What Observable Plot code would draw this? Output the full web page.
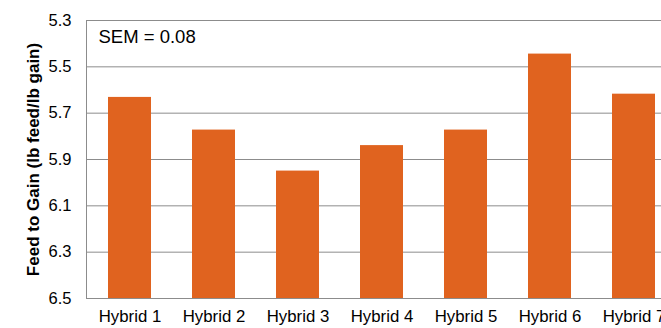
<!DOCTYPE html>
<html><head><meta charset="utf-8">
<script src="https://cdn.jsdelivr.net/npm/d3@7"></script>
<script src="https://cdn.jsdelivr.net/npm/@observablehq/plot@0.6"></script>
<style>html,body{margin:0;padding:0;background:#fff;overflow:hidden;}</style>
</head><body><div id="chart"></div>
<script>
const hybrids = ["Hybrid 1", "Hybrid 2", "Hybrid 3", "Hybrid 4", "Hybrid 5", "Hybrid 6", "Hybrid 7"];
const feedToGain = [5.632, 5.773, 5.95, 5.84, 5.773, 5.445, 5.618];
const yTicks = [5.3, 5.5, 5.7, 5.9, 6.1, 6.3, 6.5];
const yTitle = "Feed to Gain (lb feed/lb gain)";
const semNote = "SEM = 0.08";

const data = hybrids.map((h, i) => ({hybrid: h, value: feedToGain[i]}));
const yMin = yTicks[0], yMax = yTicks[yTicks.length - 1];

const chart = Plot.plot({
  width: 661, height: 328,
  marginLeft: 86, marginRight: -16, marginTop: 20, marginBottom: 30,
  style: {fontFamily: "'Liberation Sans', Arial, sans-serif", fontSize: "16.5px", color: "#000", background: "#fff"},
  x: {domain: hybrids, paddingInner: 0.49, paddingOuter: 0.245, label: null},
  y: {domain: [yMin, yMax], reverse: true, label: null},
  marks: [
    Plot.gridY(yTicks, {stroke: "#8c8c8c", strokeOpacity: 1, strokeWidth: 1}),
    Plot.barY(data, {x: "hybrid", y1: () => yMax, y2: "value", fill: "#E0631F"}),
    Plot.frame({stroke: "#8c8c8c", strokeWidth: 1}),
    Plot.axisY(yTicks, {tickSize: 0, tickPadding: 15, tickFormat: d => d.toFixed(1), label: null, fill: "#000"}),
    Plot.axisX({tickSize: 0, tickPadding: 12, label: null, fill: "#000", fontSize: 16.8}),
    Plot.text([yTitle], {frameAnchor: "left", dx: -53, rotate: -90, textAnchor: "middle", lineAnchor: "middle", fontWeight: "bold", fontSize: 17, fill: "#000"}),
    Plot.text([semNote], {frameAnchor: "top-left", dx: 12, dy: 17, textAnchor: "start", lineAnchor: "middle", fontSize: 18.5, fill: "#000"})
  ]
});
document.getElementById("chart").append(chart);
</script>
</body></html>
